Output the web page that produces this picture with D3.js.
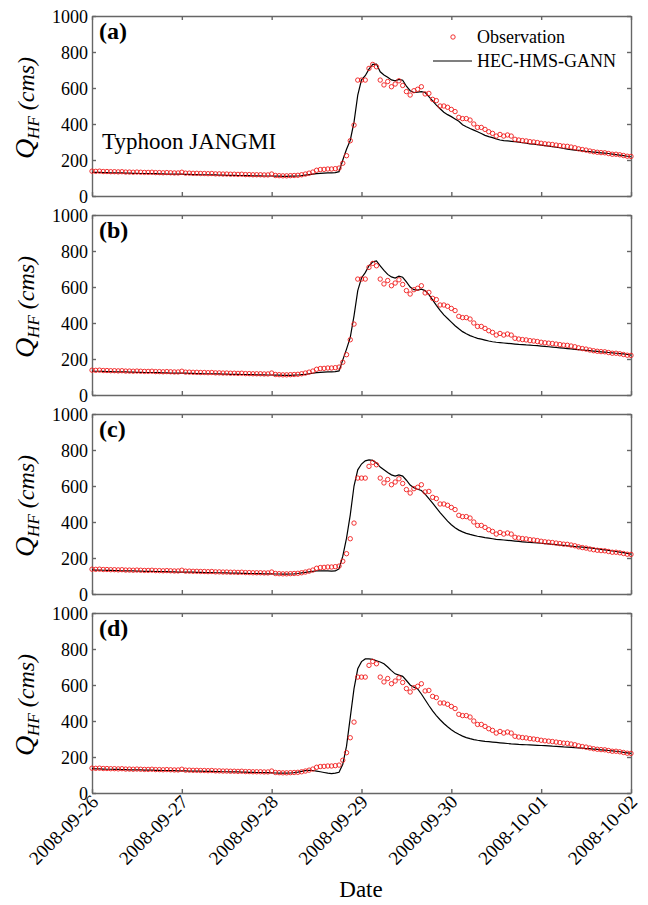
<!DOCTYPE html>
<html>
<head>
  <meta charset="utf-8">
  <title>Typhoon JANGMI hydrographs</title>
  <script src="https://d3js.org/d3.v7.min.js"></script>
  <style>
    body { margin: 0; background: #fff; }
    text { font-family: "Liberation Serif", "Times New Roman", serif; fill: #000; }
    .axis path, .axis line { stroke: #666; stroke-width: 1.4; }
  </style>
</head>
<body>
<script>
// hourly series starting 2008-09-26 00:00, one value per hour up to 2008-10-02 00:00
const startDate = new Date(2008, 8, 26, 0, 0);
const dayTicks = ["2008-09-26", "2008-09-27", "2008-09-28", "2008-09-29", "2008-09-30", "2008-10-01", "2008-10-02"];
const yTicks = [0, 200, 400, 600, 800, 1000];
const panelLabels = ["(a)", "(b)", "(c)", "(d)"];

const observation = [
  138,137,138,136,136,135,135,134,135,133,133,132,133,132,131,131,132,130,130,129,130,129,128,128,
  132,127,127,126,126,125,125,124,125,123,123,122,122,121,121,120,121,119,119,118,118,118,117,117,
  122,114,113,112,112,113,114,115,118,122,127,133,143,147,148,150,150,152,155,182,224,307,394,644,
  644,644,709,731,718,644,617,636,607,622,640,614,580,561,585,593,607,567,570,537,530,500,500,493,
  481,469,437,430,430,422,400,381,381,370,357,348,333,342,333,339,333,315,311,308,306,302,300,297,
  293,290,288,286,283,280,277,276,272,268,262,258,255,250,246,243,241,240,236,232,232,229,225,221,220
];

const simA = [
  132,131,131,130,130,129,129,128,128,127,127,126,126,125,125,125,124,124,123,123,122,122,121,121,
  121,120,120,119,119,118,118,118,117,117,116,116,115,115,115,114,114,113,113,112,112,112,111,111,
  111,110,110,109,109,110,110,111,113,116,119,122,124,126,127,128,129,130,135,200,260,310,410,560,
  645,668,705,731,733,690,672,660,645,640,648,643,610,585,575,577,580,575,552,528,505,485,465,452,
  441,428,415,396,385,375,366,357,347,337,330,324,317,311,308,306,304,302,299,296,293,290,288,285,
  283,280,277,274,271,268,264,260,258,255,253,251,248,246,244,242,240,238,236,233,230,227,224,221,218
];

const simB = [
  133,132,132,131,130,130,129,129,128,128,127,127,126,126,125,125,125,124,124,123,123,122,122,121,
  121,121,120,120,119,119,118,118,118,117,117,116,116,115,115,115,114,114,113,113,112,112,112,111,
  111,110,110,109,109,109,110,111,113,115,118,121,124,126,127,128,129,130,134,195,255,320,440,580,
  650,680,718,740,745,718,692,670,656,650,660,654,628,600,585,583,588,580,558,528,498,470,445,425,
  405,385,368,352,340,330,322,315,310,305,300,296,293,291,289,287,285,283,281,280,278,277,275,274,
  272,270,268,266,264,262,260,258,256,254,252,250,248,246,244,242,240,238,236,234,232,230,228,225,222
];

const simC = [
  134,133,133,132,131,131,130,130,129,129,128,128,127,127,126,126,126,125,125,124,124,123,123,122,
  122,122,121,121,120,120,119,119,119,118,118,117,117,116,116,116,115,115,114,114,113,113,112,112,
  112,111,111,110,110,111,112,114,117,120,123,126,128,129,129,128,127,128,140,210,310,440,600,690,
  722,740,745,742,728,705,690,675,662,655,662,655,632,605,590,582,575,555,530,505,478,452,428,405,
  385,368,355,345,337,331,326,321,317,313,310,307,304,302,300,298,296,294,292,290,288,287,285,284,
  282,280,278,276,274,272,270,268,266,264,262,260,258,256,254,251,248,245,242,239,236,233,230,226,222
];

const simD = [
  135,134,134,133,132,132,131,131,130,130,129,129,128,128,127,127,127,126,126,125,125,124,124,123,
  123,123,122,122,121,121,120,120,120,119,119,118,118,117,117,117,116,116,115,115,114,114,113,113,
  112,111,110,110,110,111,113,116,120,124,126,125,122,118,114,110,108,110,115,160,260,420,580,690,
  730,745,745,742,735,728,718,700,680,662,655,648,625,600,588,578,550,518,486,456,430,407,386,368,
  352,338,326,316,308,302,297,293,290,287,285,283,281,279,277,275,273,272,270,269,268,267,266,265,
  264,263,262,260,259,258,256,255,254,252,251,249,247,246,244,242,240,238,236,234,232,229,226,223,220
];

const simulations = [simA, simB, simC, simD];

const width = 648, height = 905;
const margin = { left: 92, right: 17 };
const panelTops = [16, 215, 414, 613];
const panelH = 180;
const serif = '"Liberation Serif", "Times New Roman", serif';

const svg = d3.select("body").append("svg")
  .attr("width", width)
  .attr("height", height);

const parseDay = d3.timeParse("%Y-%m-%d");
const tickDates = dayTicks.map(parseDay);
const hourDate = i => d3.timeHour.offset(startDate, i);

const x = d3.scaleTime()
  .domain([tickDates[0], tickDates[tickDates.length - 1]])
  .range([margin.left, width - margin.right]);

simulations.forEach(function (sim, p) {
  const top = panelTops[p];
  const y = d3.scaleLinear().domain([0, 1000]).range([top + panelH, top]);
  const g = svg.append("g");

  // frame + inward ticks
  const bottom = g.append("g").attr("class", "axis")
    .attr("transform", "translate(0," + (top + panelH) + ")")
    .call(d3.axisBottom(x).tickValues(tickDates).tickSizeInner(-4).tickSizeOuter(0).tickFormat(d3.timeFormat("%Y-%m-%d")));
  if (p < 3) {
    bottom.selectAll("text").remove();
  } else {
    bottom.selectAll("text")
      .attr("x", 0).attr("y", 0).attr("dy", 0)
      .attr("text-anchor", "end")
      .attr("transform", "translate(7,10) rotate(-45)")
      .style("font-family", serif)
      .style("font-size", "19px");
  }
  g.append("g").attr("class", "axis")
    .attr("transform", "translate(0," + top + ")")
    .call(d3.axisTop(x).tickValues(tickDates).tickSizeInner(-4).tickSizeOuter(0).tickFormat(""));
  g.append("g").attr("class", "axis")
    .attr("transform", "translate(" + margin.left + ",0)")
    .call(d3.axisLeft(y).tickValues(yTicks).tickSizeInner(-4).tickSizeOuter(0).tickPadding(4).tickFormat(d3.format("d")))
    .selectAll("text")
    .style("font-family", serif)
    .style("font-size", "18px")
    .attr("dy", "0.36em");
  g.append("g").attr("class", "axis")
    .attr("transform", "translate(" + (width - margin.right) + ",0)")
    .call(d3.axisRight(y).tickValues(yTicks).tickSizeInner(-4).tickSizeOuter(0).tickFormat(""));

  // simulated line
  const line = d3.line()
    .x((d, i) => x(hourDate(i)))
    .y(d => y(d));
  g.append("path")
    .datum(sim)
    .attr("fill", "none")
    .attr("stroke", "#000")
    .attr("stroke-width", 1.2)
    .attr("d", line);

  // observations
  g.append("g").selectAll("circle")
    .data(observation)
    .join("circle")
    .attr("cx", (d, i) => x(hourDate(i)))
    .attr("cy", d => y(d))
    .attr("r", 2.2)
    .attr("fill", "none")
    .attr("stroke", "#f01c1c")
    .attr("stroke-width", 0.9);

  // panel label
  g.append("text")
    .attr("x", 99).attr("y", top + 23)
    .style("font-size", "24px").style("font-weight", "bold")
    .text(panelLabels[p]);

  // y label
  const yl = g.append("text")
    .attr("transform", "translate(34," + (top + panelH / 2 + 2) + ") rotate(-90)")
    .attr("text-anchor", "middle")
    .style("font-style", "italic");
  yl.append("tspan").style("font-size", "28px").text("Q");
  yl.append("tspan").style("font-size", "17px").attr("dy", 5).text("HF");
  yl.append("tspan").style("font-size", "24px").attr("dy", -5).text(" (cms)");
});

svg.append("text")
  .attr("x", 361).attr("y", 897)
  .attr("text-anchor", "middle")
  .style("font-size", "23px")
  .text("Date");

svg.append("text")
  .attr("x", 102).attr("y", 149)
  .style("font-size", "23px")
  .text("Typhoon JANGMI");

// legend
const lg = svg.append("g");
lg.append("circle").attr("cx", 453).attr("cy", 37).attr("r", 2.2)
  .attr("fill", "none").attr("stroke", "#f01c1c").attr("stroke-width", 0.9);
lg.append("text").attr("x", 477).attr("y", 43).style("font-size", "18px").text("Observation");
lg.append("line").attr("x1", 433).attr("x2", 472).attr("y1", 61).attr("y2", 61)
  .attr("stroke", "#000").attr("stroke-width", 1.2);
lg.append("text").attr("x", 477).attr("y", 67).style("font-size", "18px").text("HEC-HMS-GANN");
</script>
</body>
</html>
